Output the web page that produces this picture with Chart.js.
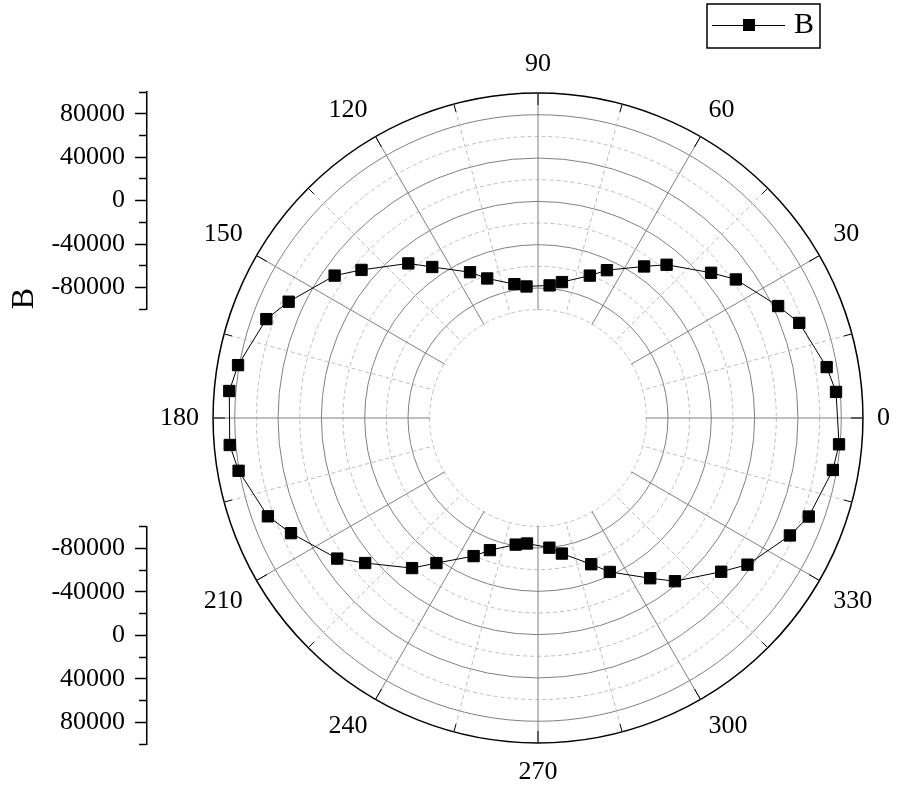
<!DOCTYPE html>
<html>
<head>
<meta charset="utf-8">
<title>B - polar</title>
<script src="https://cdn.jsdelivr.net/npm/chart.js"></script>
<style>
  html, body { margin: 0; padding: 0; background: #fff; overflow: hidden; }
  #wrap { width: 903px; height: 794px; }
</style>
</head>
<body>
<div id="wrap"><canvas id="polar" width="903" height="794"></canvas></div>
<script>
// series B (angle in degrees, radial value)
var angleDeg = [5, 10, 20, 25, 35, 40, 50, 55, 65, 70, 80, 85,
  95, 100, 110, 115, 125, 130, 140, 145, 155, 160, 170, 175,
  185, 190, 200, 205, 215, 220, 230, 235, 245, 250, 260, 265,
  275, 280, 290, 295, 305, 310, 320, 325, 335, 340, 350, 355];
var valueB = [76200, 70600, 56700, 44600, 23000, 8600, -15300, -29200, -49400, -60100, -72600, -77100,
  -78100, -74500, -62900, -51500, -29800, -13700, 12700, 29200, 54000, 66900, 81200, 86100,
  85700, 80700, 65400, 51600, 26300, 8300, -19100, -36500, -59300, -70200, -81300, -83700,
  -79800, -72900, -56300, -43200, -19400, -3300, 20800, 36100, 56600, 66000, 76400, 79000];

// angular axis: labelled every 30, grid every 15
var angleLabels = [0, 30, 60, 90, 120, 150, 180, 210, 240, 270, 300, 330];
var angleGridStep = 15;
var angleSampleStep = 5;

// radial axis
var radialMin = -100000;
var radialMax = 100000;
var radialStep = 20000;
var radialMajor = 40000;
var radialCentre = -200000; // value at the centre, leaves the empty hole

var SERIF = "'Liberation Serif', 'Times New Roman', serif";

// radar directions: index 0 points right, going counter-clockwise
var directions = [];
for (var i = 0; i < 360 / angleSampleStep; i++) {
  directions.push((360 - i * angleSampleStep) % 360);
}
var labels = directions.map(function (d) {
  return angleLabels.indexOf(d) >= 0 ? String(d) : "";
});
var radarData = directions.map(function (d) {
  var k = angleDeg.indexOf(d);
  return k >= 0 ? valueB[k] : null;
});

// legend symbol: line with a square on it
var legendSymbol = document.createElement("canvas");
legendSymbol.width = 73;
legendSymbol.height = 14;
(function () {
  var c = legendSymbol.getContext("2d");
  c.strokeStyle = "#000";
  c.lineWidth = 1;
  c.beginPath();
  c.moveTo(0, 7.5);
  c.lineTo(73, 7.5);
  c.stroke();
  c.fillStyle = "#000";
  c.fillRect(31, 1, 12, 12);
})();

// left radial axes (upper copy and mirrored lower copy), stacked with blank spacers
function sideAxis(weight, reverse, showTitle) {
  return {
    type: "linear",
    axis: "y",
    position: "left",
    stack: "rad",
    stackWeight: 652 / 3,
    weight: weight,
    min: radialMin,
    max: radialMax,
    reverse: reverse,
    border: { display: true, color: "#000", width: 1.5 },
    grid: {
      drawOnChartArea: false,
      drawTicks: true,
      tickLength: 20,
      tickColor: "#000",
      tickWidth: 1.5,
      tickBorderDash: function (c) {
        return c.tick && c.tick.value % radialMajor === 0 ? [0, 8, 12, 40] : [0, 12, 8, 40];
      },
    },
    ticks: {
      stepSize: radialStep,
      autoSkip: false,
      padding: 2,
      color: "#000",
      font: { family: SERIF, size: 26, lineHeight: 12 / 26 },
      callback: function (v) {
        return v % radialMajor === 0 ? String(v) : "";
      },
    },
    title: {
      display: showTitle,
      text: "B",
      align: "start",
      color: "#000",
      font: { family: SERIF, size: 32 },
      padding: { top: 5, bottom: 6 },
    },
  };
}

function spacer(weight, size) {
  return {
    type: "linear",
    axis: "y",
    position: "left",
    stack: "rad",
    stackWeight: size,
    weight: weight,
    display: false,
    min: 0,
    max: 1,
  };
}

var polarExtras = {
  id: "polarExtras",
  beforeDatasetsDraw: function (chart) {
    var r = chart.scales.r;
    var ctx = chart.ctx;
    var inner = r.getDistanceFromCenterForValue(radialMin);
    var outer = r.getDistanceFromCenterForValue(radialMax);
    ctx.save();
    // clear the hole inside the innermost ring
    ctx.fillStyle = "#fff";
    ctx.beginPath();
    ctx.arc(r.xCenter, r.yCenter, inner - 0.6, 0, 2 * Math.PI);
    ctx.fill();
    // angular ticks on the outer ring
    ctx.strokeStyle = "#000";
    ctx.lineWidth = 1;
    directions.forEach(function (d, i) {
      if (d % angleGridStep) return;
      var len = d % 30 === 0 ? 12 : 8;
      var a = r.getPointPosition(i, outer);
      var b = r.getPointPosition(i, outer - len);
      ctx.beginPath();
      ctx.moveTo(a.x, a.y);
      ctx.lineTo(b.x, b.y);
      ctx.stroke();
    });
    ctx.restore();
  },
  afterDraw: function (chart) {
    var hb = chart.legend && chart.legend.legendHitBoxes && chart.legend.legendHitBoxes[0];
    if (!hb) return;
    var ctx = chart.ctx;
    ctx.save();
    ctx.strokeStyle = "#000";
    ctx.lineWidth = 1.5;
    ctx.strokeRect(hb.left - 11, hb.top - 6, hb.width + 17, hb.height + 14);
    ctx.restore();
  },
};

new Chart(document.getElementById("polar"), {
  type: "radar",
  data: {
    labels: labels,
    datasets: [
      {
        label: "B",
        data: radarData,
        spanGaps: true,
        fill: false,
        borderColor: "#000",
        borderWidth: 1,
        tension: 0,
        pointStyle: "rect",
        pointRadius: 8,
        pointBorderWidth: 1,
        pointBackgroundColor: "#000",
        pointBorderColor: "#000",
      },
    ],
  },
  options: {
    responsive: false,
    animation: false,
    devicePixelRatio: 1,
    layout: { padding: { top: 3.5, bottom: 0, left: 0, right: 0 } },
    plugins: {
      tooltip: { enabled: false },
      legend: {
        position: "top",
        align: "end",
        labels: {
          usePointStyle: true,
          pointStyleWidth: 61,
          padding: 6.5,
          color: "#000",
          font: { family: SERIF, size: 30 },
          generateLabels: function () {
            return [
              { text: "B", pointStyle: legendSymbol, fillStyle: "#000", strokeStyle: "#000",
                lineWidth: 0, hidden: false, datasetIndex: 0, fontColor: "#000" },
              { text: "", pointStyle: "line", fillStyle: "rgba(0,0,0,0)", strokeStyle: "rgba(0,0,0,0)",
                lineWidth: 0, hidden: false, datasetIndex: -1, fontColor: "#000" },
            ];
          },
        },
      },
    },
    scales: {
      r: {
        min: radialCentre,
        max: radialMax,
        startAngle: 90,
        ticks: { display: false, stepSize: radialStep },
        grid: {
          circular: true,
          color: function (c) {
            var v = c.tick ? c.tick.value : radialCentre;
            if (v < radialMin) return "rgba(0,0,0,0)";
            if (v === radialMax) return "#000";
            return v % radialMajor === 0 ? "#808080" : "#bdbdbd";
          },
          lineWidth: function (c) {
            return c.tick && c.tick.value === radialMax ? 1.5 : 1;
          },
        },
        border: {
          dash: function (c) {
            var v = c.tick ? c.tick.value : 0;
            return v % radialMajor === 0 || v === radialMax ? [] : [4, 3];
          },
        },
        angleLines: {
          color: function (c) {
            var d = directions[c.index];
            if (d % angleGridStep) return "rgba(0,0,0,0)";
            return d % 30 === 0 ? "#808080" : "#bdbdbd";
          },
          lineWidth: function (c) {
            return directions[c.index] % angleGridStep ? 0 : 1;
          },
          borderDash: function (c) {
            return directions[c.index] % 30 === 0 ? [] : [4, 3];
          },
        },
        pointLabels: {
          color: "#000",
          font: { family: SERIF, size: 26, lineHeight: 1 },
          padding: function (c) {
            var d = directions[c.index];
            return d === 0 || d === 180 ? 14 : 16;
          },
        },
      },
      yTopPad: spacer(5, 42),
      yTop: sideAxis(4, false, true),
      yGap: spacer(3, 652 / 3),
      yBottom: sideAxis(2, true, false),
      yBottomPad: spacer(1, 42),
    },
  },
  plugins: [polarExtras],
});
</script>
</body>
</html>
